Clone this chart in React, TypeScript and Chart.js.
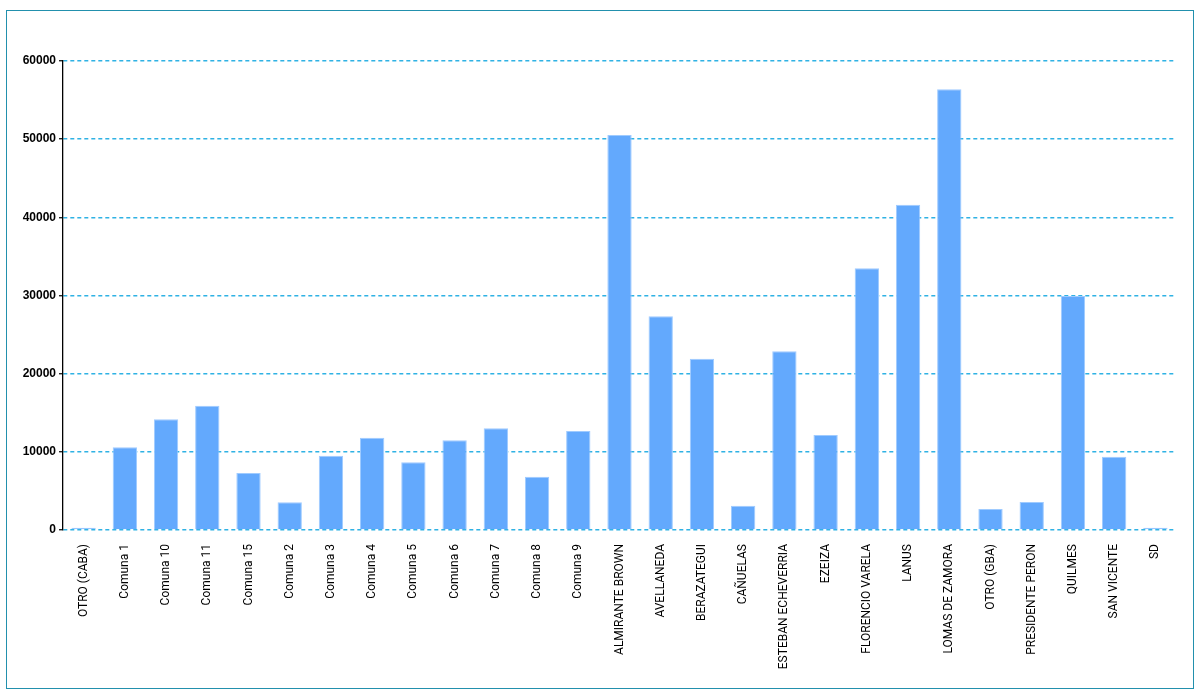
import React, { useEffect, useRef } from "react";
import { Chart, registerables } from "chart.js";

Chart.register(...registerables);

const categories: string[] = [
  "OTRO (CABA)", "Comuna 1", "Comuna 10", "Comuna 11", "Comuna 15", "Comuna 2",
  "Comuna 3", "Comuna 4", "Comuna 5", "Comuna 6", "Comuna 7", "Comuna 8", "Comuna 9",
  "ALMIRANTE BROWN", "AVELLANEDA", "BERAZATEGUI", "CAÑUELAS", "ESTEBAN ECHEVERRIA",
  "EZEIZA", "FLORENCIO VARELA", "LANUS", "LOMAS DE ZAMORA", "OTRO (GBA)",
  "PRESIDENTE PERON", "QUILMES", "SAN VICENTE", "SD",
];

const values: number[] = [
  280, 10580, 14160, 15900, 7290, 3540,
  9510, 11810, 8660, 11470, 13010, 6820, 12670,
  50530, 27340, 21920, 3110, 22860,
  12150, 33480, 41620, 56380, 2690,
  3580, 29950, 9380, 300,
];

const yTicks: number[] = [0, 10000, 20000, 30000, 40000, 50000, 60000];

export default function App() {
  const ref = useRef<HTMLCanvasElement | null>(null);

  useEffect(() => {
    if (!ref.current) return;
    const chart = new Chart(ref.current, {
      type: "bar",
      data: {
        labels: categories,
        datasets: [
          {
            data: values,
            backgroundColor: "#63a9fd",
            borderColor: "#9fcbff",
            borderWidth: 1,
            barPercentage: 0.59,
            categoryPercentage: 1,
          },
        ],
      },
      options: {
        animation: false,
        responsive: true,
        maintainAspectRatio: false,
        layout: { padding: { left: 0, right: 17, top: 50, bottom: 0 } },
        plugins: {
          legend: { display: false },
          title: { display: false },
          tooltip: { enabled: false },
        },
        scales: {
          x: {
            grid: { display: false },
            border: { display: false },
            ticks: {
              autoSkip: false,
              maxRotation: 90,
              minRotation: 90,
              padding: 6,
              color: "#000",
              font: { family: "Roboto, sans-serif", size: 12 },
            },
            afterFit: (s: any) => {
              s.height = 158;
            },
          },
          y: {
            min: 0,
            max: 60000,
            afterBuildTicks: (s: any) => {
              s.ticks = yTicks.map((v) => ({ value: v }));
            },
            grid: {
              color: "#2fb2e4",
              lineWidth: 1.5,
              tickColor: "#000",
              tickLength: 4,
              tickWidth: 1.2,
            },
            border: { display: true, color: "#000", width: 1.3, dash: [4, 3] },
            ticks: {
              padding: 3,
              color: "#000",
              font: { family: "'Liberation Sans', Arial, sans-serif", size: 12, weight: "bold" },
              callback: (v: any) => String(v),
            },
            afterFit: (s: any) => {
              s.width = 56;
            },
          },
        },
      },
    });
    return () => chart.destroy();
  }, []);

  return (
    <div
      style={{
        position: "absolute",
        left: 6,
        top: 10,
        width: 1188,
        height: 679,
        border: "1px solid #2290ad",
        boxSizing: "border-box",
        background: "#fff",
      }}
    >
      <canvas ref={ref} />
    </div>
  );
}
